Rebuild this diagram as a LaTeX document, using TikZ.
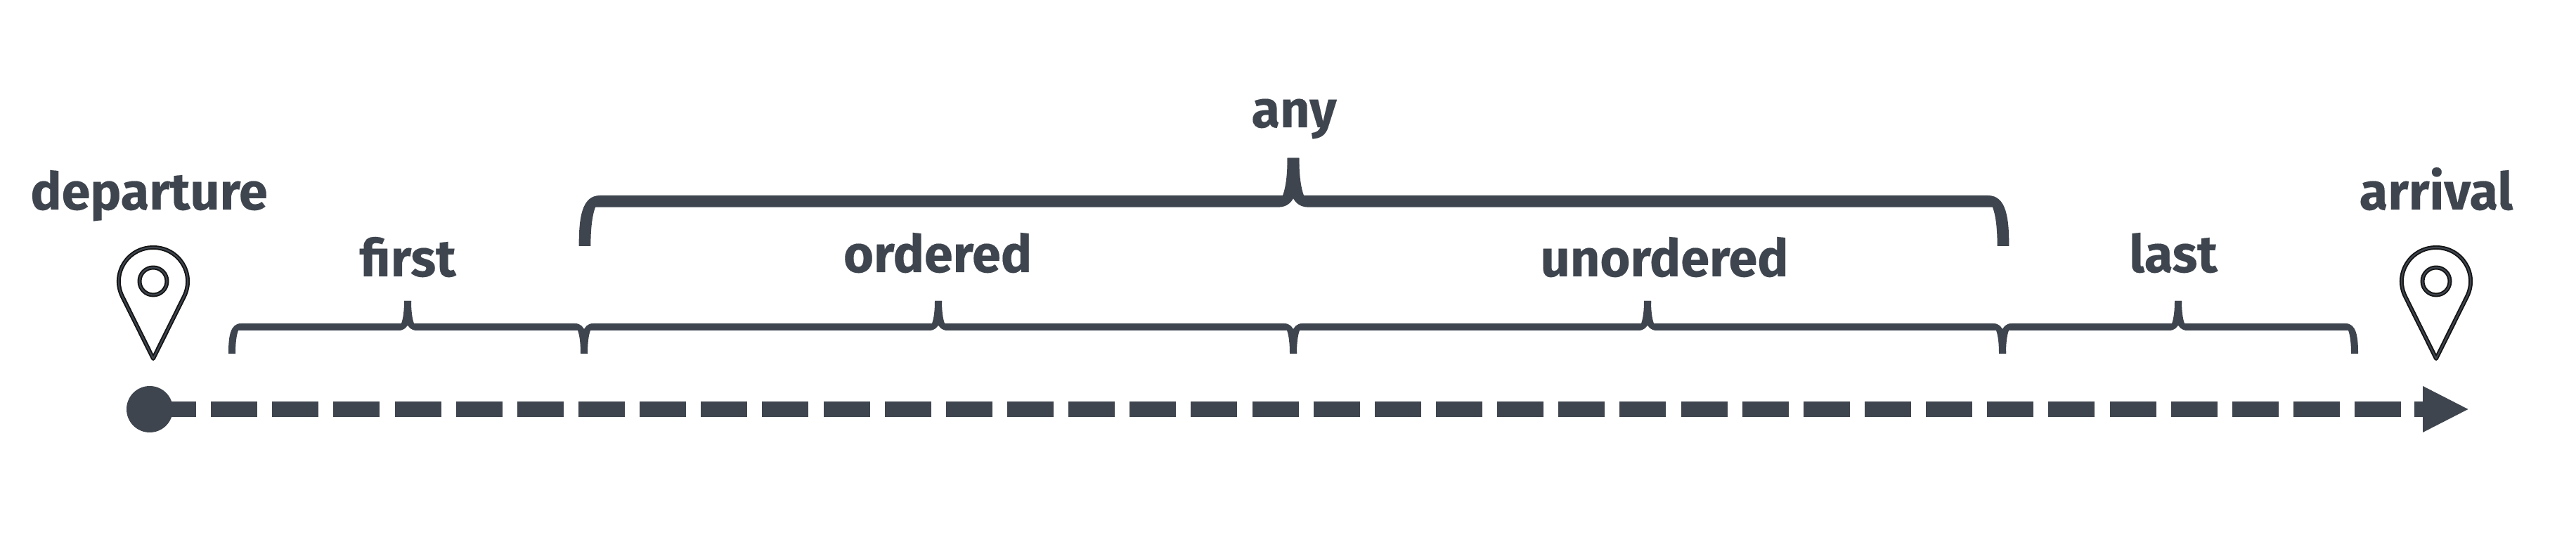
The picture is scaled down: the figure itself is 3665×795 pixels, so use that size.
\documentclass[tikz,border=0pt]{standalone}
\usepackage{fontspec}
\setmainfont{Fira Sans}[BoldFeatures={FakeBold=0.25}]
\usepackage{xcolor}
\usetikzlibrary{arrows.meta}
\definecolor{slatecol}{RGB}{62,69,78}
\definecolor{pincol}{RGB}{20,20,20}

% half of a brace: foot at #1, tip at #2, bar top at #3, size factor #4
\newcommand{\halfbrace}[4]{%
  \pgfmathsetmacro{\s}{#2>#1 ? #4 : -#4}
  \pgfmathsetmacro{\t}{#4}
  \fill[slatecol] (#1-5*\s,#3+43*\t)
    .. controls (#1-5*\s,#3+20*\t) and (#1-3*\s,#3) .. (#1+13*\s,#3)
    -- (#2-9*\s,#3)
    .. controls (#2-6*\s,#3-8*\t) and (#2-5*\s,#3-20*\t) .. (#2-5*\s,#3-32*\t)
    -- (#2+5*\s,#3-32*\t)
    .. controls (#2+5*\s,#3-8*\t) and (#2+3*\s,#3+10*\t) .. (#2-13*\s,#3+10*\t)
    -- (#1+9*\s,#3+10*\t)
    .. controls (#1+6*\s,#3+18*\t) and (#1+5*\s,#3+30*\t) .. (#1+5*\s,#3+43*\t)
    -- cycle;}

\begin{document}
\begin{tikzpicture}[x=0.01cm, y=-0.01cm,
    every node/.style={font=\fontsize{21}{24}\selectfont\bfseries, text=slatecol, inner sep=0pt, anchor=base},
    pinline/.style={draw=pincol, line width=0.55pt, double=slatecol, double distance=0.6pt, line join=round}]

    \useasboundingbox (0,0) rectangle (3665,795);

    %% Labels
    \node (departure) at (212,298) {departure};
    \node (first) at (580,393) {f{}irst};
    \node (any) at (1841,181) {any};
    \node (ordered) at (1334,387) {ordered};
    \node (unordered) at (2368,393) {unordered};
    \node (last) at (3092,387) {last};
    \node (arrival) at (3466,298) {arrival};

    %% Small braces
    \foreach \xa/\xb in {330/580,831/580,831/1335,1840/1335,1840/2344,2849/2344,2849/3099,3350/3099} {
      \halfbrace{\xa}{\xb}{460}{1}
    }

    %% Large brace
    \foreach \xa/\xb in {832/1840,2850/1840} {
      \halfbrace{\xa}{\xb}{278}{1.67}
    }

    %% Pins
    \foreach \x in {218,3466} {
      \draw[pinline] (\x,510) -- (\x-44,421.6)
        .. controls (\x-60,389) and (\x-36.3,352) .. (\x,352)
        .. controls (\x+36.3,352) and (\x+60,389) .. (\x+44,421.6) -- cycle;
      \draw[pinline] (\x,400) circle (19.5);
    }

    %% Timeline
    \coordinate (start) at (213,582);
    \coordinate (end) at (3447,582);
    \fill[slatecol] (start) circle (33);
    \draw[slatecol, line width=6.26pt, dash pattern=on 18.78pt off 6pt] (start) -- (end);
    \fill[slatecol] (3435,571) rectangle (3447,593);
    \fill[slatecol] (3447,549) -- (3511.5,582) -- (3447,615) -- cycle;

\end{tikzpicture}
\end{document}
